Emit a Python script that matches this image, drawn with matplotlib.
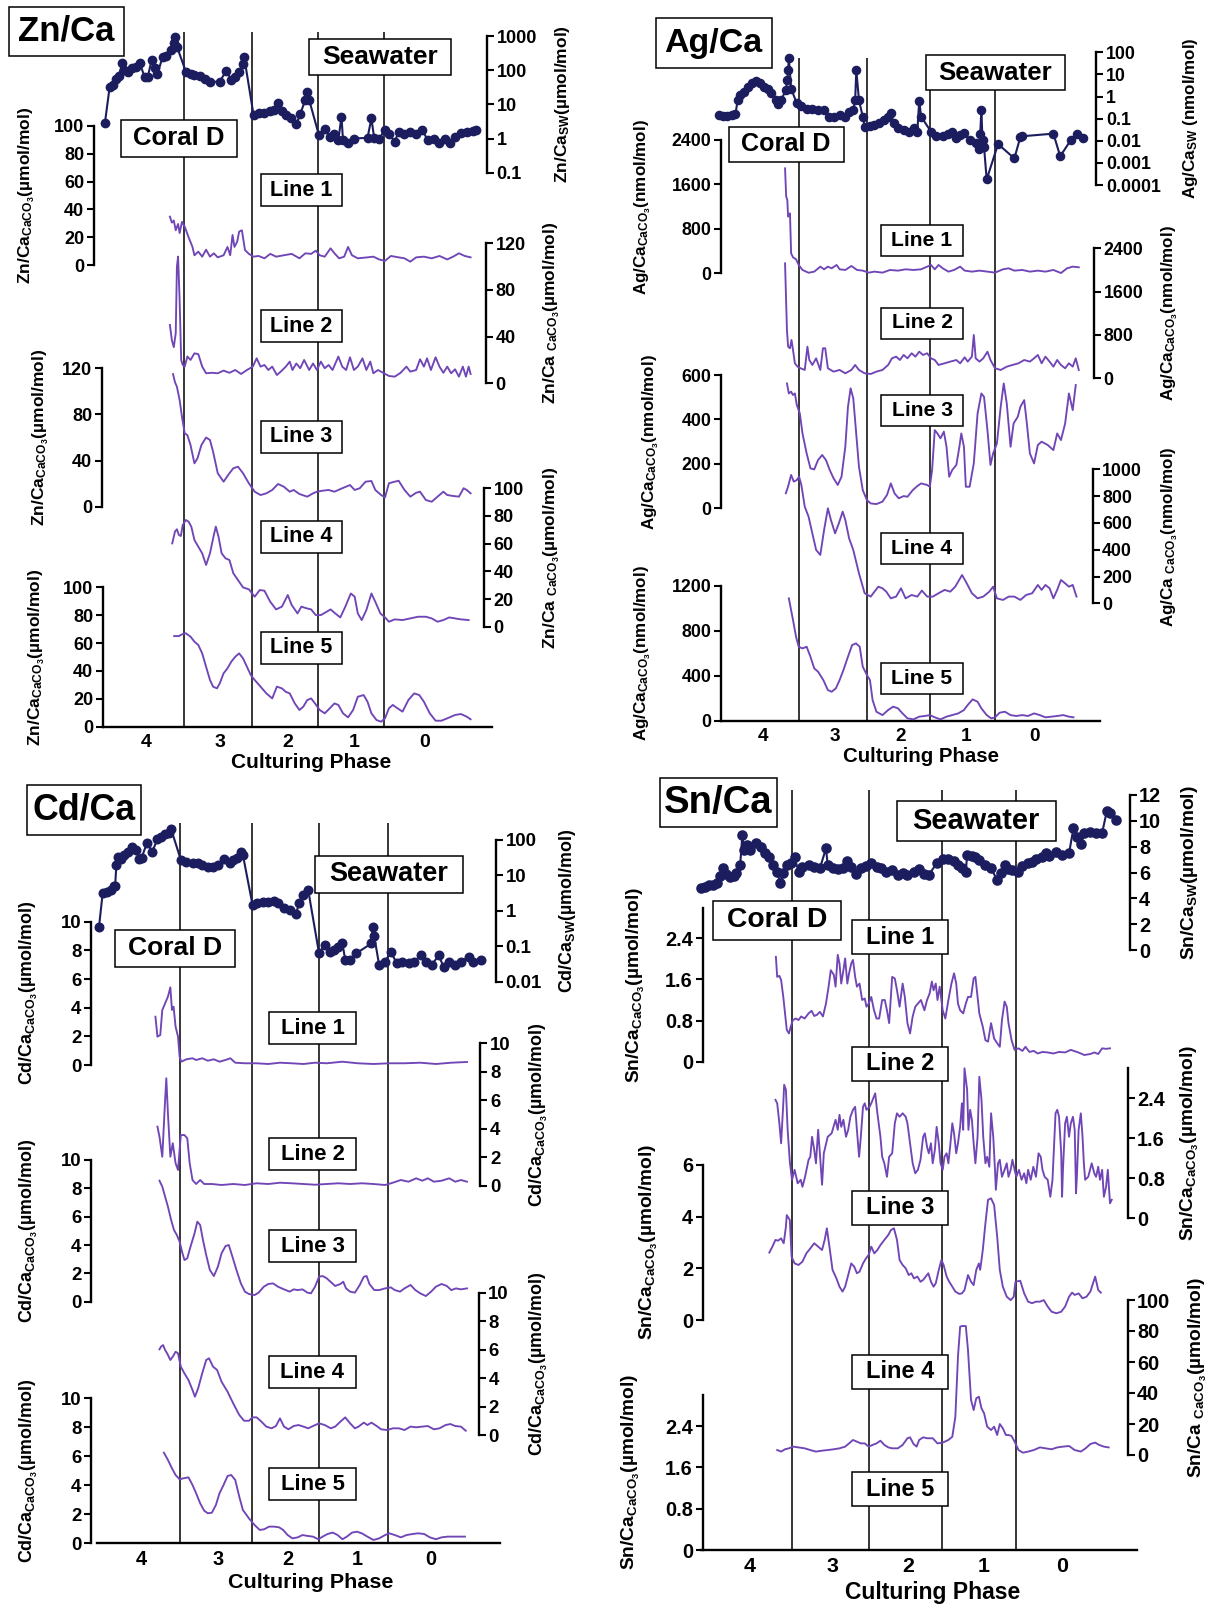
import numpy as np
import matplotlib
matplotlib.use('Agg')
import matplotlib.pyplot as plt
from matplotlib.patches import Rectangle
from matplotlib.ticker import FixedLocator, FixedFormatter, NullLocator

plt.rcParams['font.family'] = ['Liberation Sans', 'DejaVu Sans']
plt.rcParams['font.weight'] = 'bold'
plt.rcParams['mathtext.fontset'] = 'custom'
plt.rcParams['mathtext.rm'] = 'Liberation Sans'
plt.rcParams['mathtext.it'] = 'Liberation Sans:italic'
plt.rcParams['mathtext.bf'] = 'Liberation Sans:bold'

W, H = 1214, 1609
PURPLE = '#7045b6'
NAVY = '#1c1d5e'

# ---------------- shared x structure (position along the record, 0-100) -------------
PHASE_BOUNDS = [20.7, 38.4, 55.2, 72.2]
PHASE_TICKS = [11.1, 30.0, 47.4, 64.7, 82.8]
PHASE_LABELS = ['4', '3', '2', '1', '0']

# ---------------- Zn/Ca ----------------
ZN_SW = np.array([(0.5,2.9),(1.7,31.6),(2.5,37),(3.3,54),(4.0,68),(5.0,158),(5.5,100),(6.5,91),(7.5,113),(8.5,126),(9.5,158),(10.7,62),(11.5,62),(12.5,200),(13.3,113),(14.0,78),(15.3,240),(16.3,258),(17.5,390),(18.3,610),(18.5,920),(19.0,490),(21.3,91),(22.5,78),(23.5,72),(25.0,68),(26.3,57),(27.5,46),(30.0,46),(31.7,97),(33.0,51),(34.0,62),(35.0,91),(36.0,152),(36.3,240),(38.7,4.9),(40.0,5.5),(41.5,5.6),(43.0,6.2),(44.0,6.8),(45.0,11.2),(46.0,6.2),(47.0,4.9),(48.3,3.9),(49.7,2.6),(50.7,5.2),(52.0,13.5),(52.5,23),(53.0,13.5),(55.5,1.26),(57.0,1.86),(58.3,1.1),(59.5,1.4),(60.5,0.9),(61.3,4.4),(61.7,0.9),(63.0,0.72),(64.5,1.0),(68.0,1.05),(69.0,3.9),(69.7,1.05),(71.0,1.0),(72.5,1.8),(73.5,1.4),(75.0,0.8),(76.0,1.6),(77.5,1.4),(79.0,1.6),(80.5,1.4),(82.0,1.8),(83.5,0.9),(85.0,1.0),(86.5,0.72),(88.0,0.95),(89.3,0.75),(90.5,1.1),(92.0,1.5),(93.5,1.6),(95.0,1.7),(96.0,1.8)])
ZN_L1 = np.array([(17.2,34.8),(17.7,30.5),(18.2,32),(18.7,25),(19.3,29.5),(19.7,23),(20.3,31),(21.0,27.6),(22.0,20),(23.0,13),(23.5,7),(24.5,9.6),(25.5,6),(26.5,11),(27.5,6),(28.5,8.4),(29.5,5.5),(31.0,7),(32.0,13),(32.7,7),(33.3,21.6),(33.8,13),(34.5,16.8),(35.0,24),(35.7,25),(36.5,10.8),(37.5,8),(38.7,6),(40.0,6.5),(41.5,4.8),(43.0,8),(44.5,6),(46.5,7),(48.5,8),(50.5,4.8),(52.0,8.4),(53.5,8),(54.7,10.3),(55.7,7),(57.0,6),(58.5,12),(59.5,8.4),(60.7,4.8),(62.0,6),(63.0,13),(64.0,7),(65.5,4.8),(68.0,5.5),(69.5,6),(71.0,4),(72.5,3),(74.0,6.5),(76.0,5.5),(77.5,4.8),(79.0,2.4),(80.5,5.5),(82.5,6),(84.5,4.8),(86.5,6.5),(88.5,4),(90.0,6),(91.5,8.4),(93.0,6.5),(94.5,5.5)])
ZN_L2 = np.array([(17.2,50),(17.7,37),(18.2,31),(18.7,43),(19.0,100),(19.3,108.6),(19.7,71),(20.1,20),(20.5,15.7),(21.0,14.3),(21.7,23),(22.5,20),(23.5,25.7),(24.5,25),(25.5,14.3),(26.5,8.6),(28.0,9),(29.5,8.6),(31.0,10.9),(32.5,9),(34.0,11.4),(35.5,8),(37.0,11.4),(38.5,14.3),(39.5,21.4),(40.5,14.3),(41.5,15.7),(42.5,11.4),(43.5,14.3),(44.7,7.1),(45.7,10),(47.0,14.3),(48.0,18.6),(48.7,11.4),(49.7,17),(50.7,12.9),(51.7,20),(53.0,11.4),(54.0,17),(55.0,11.4),(56.0,18.6),(57.0,12.9),(58.0,15.7),(59.0,11.4),(60.5,22.9),(61.5,14.3),(62.5,11.4),(63.5,22.3),(64.5,11.4),(65.5,14.3),(66.7,21.4),(67.7,11.4),(68.7,18.6),(69.5,8.6),(70.7,11.4),(72.0,9),(73.5,6.3),(75.0,5.7),(76.5,9),(78.0,14.3),(79.0,10),(80.5,11.4),(81.5,20.6),(82.5,14.3),(83.3,21.4),(84.3,11.4),(85.5,22.3),(86.5,14.3),(87.5,9),(88.5,14.3),(89.5,8.6),(90.5,12),(91.5,5.7),(92.5,14.3),(93.3,5.7),(94.0,14.3),(94.5,8)])
ZN_L3 = np.array([(18.0,115),(18.5,108),(19.0,104),(19.7,92.5),(20.3,78),(21.0,63.7),(21.7,62),(22.5,53.5),(23.5,37.6),(24.3,42),(25.3,53.5),(26.5,60),(27.5,57.8),(28.3,47.7),(29.5,29),(31.0,21.7),(32.5,29),(33.5,33.3),(34.7,34.7),(36.0,29),(37.5,20.3),(39.0,13),(40.5,10.1),(42.0,11.6),(43.5,14.5),(45.0,19.7),(46.5,17.3),(48.0,13),(49.0,14.5),(50.5,11),(52.5,8.7),(54.0,11.6),(55.0,13),(56.5,13.9),(58.0,14.5),(59.5,13),(61.5,16),(63.5,18.8),(64.7,14.5),(66.0,16),(67.5,21.7),(69.0,22.3),(70.0,14.5),(71.5,10.1),(72.5,8.1),(73.5,20.3),(75.0,21.7),(76.0,22.5),(77.5,14.5),(79.0,8.7),(80.5,12.1),(81.5,13),(83.0,5.8),(84.5,4.3),(86.0,8.7),(87.5,13),(88.5,10.1),(90.0,9.3),(91.5,8.7),(92.7,16),(93.5,14.5),(94.5,11.6)])
ZN_L4 = np.array([(17.8,60.2),(18.5,68.7),(19.0,70.4),(19.5,66.3),(20.0,65.5),(20.5,73.5),(21.3,77.1),(22.0,75.9),(22.7,72.3),(23.5,62.7),(24.5,57.8),(25.5,53),(26.5,44.6),(27.5,53),(28.5,66.3),(29.0,72.3),(29.7,65),(30.5,53),(31.5,49.4),(32.5,48.2),(33.5,38.6),(34.7,33.7),(36.0,28.4),(37.5,27),(39.0,21.7),(40.3,26.5),(41.5,26),(43.0,18),(44.5,12.5),(46.0,14.5),(47.5,22.9),(48.5,15.7),(50.0,9.6),(51.0,14.5),(52.3,13.3),(53.5,12.5),(54.7,8.4),(56.0,8.4),(57.5,10.8),(58.5,12.5),(59.7,9.6),(61.0,6.7),(62.3,14.5),(63.7,24),(64.7,21.7),(65.5,9.6),(66.5,4.8),(67.7,12),(69.0,24),(70.0,18),(71.3,9.6),(72.5,6.7),(73.5,3.6),(75.0,5.3),(77.0,4.8),(79.0,6),(81.0,7.2),(83.0,7.2),(84.5,6),(86.0,3.6),(87.5,4.8),(89.0,6.7),(90.5,6),(92.0,5.3),(94.0,4.8)])
ZN_L5 = np.array([(18.3,65),(19.5,65),(20.5,66.5),(21.3,67),(22.5,64.6),(23.5,61),(24.5,58.6),(25.5,52.6),(26.5,43),(27.5,33.5),(28.3,28.7),(29.3,27.5),(30.0,31),(31.0,38.3),(32.0,41.9),(33.0,46.7),(34.0,50.2),(35.0,52.6),(36.0,49),(37.0,43),(38.0,37),(39.0,33.5),(40.5,28.7),(42.0,23.9),(43.5,20.3),(44.7,28.7),(46.0,27.5),(47.0,25),(48.0,23.9),(49.3,16.7),(50.5,12),(51.5,14.4),(52.5,19.1),(53.5,20.3),(54.5,16.7),(55.7,12),(57.0,9.6),(58.3,13.2),(59.5,16.7),(60.5,15.6),(61.7,9.6),(63.0,6.7),(64.3,12),(65.5,21.5),(67.0,22.7),(68.0,17.9),(69.0,9.6),(70.3,4.8),(71.5,3.6),(72.5,6),(73.5,13.2),(74.5,15.6),(75.7,13.2),(77.0,10.8),(78.5,19.1),(80.0,23.9),(81.3,22.7),(82.5,17.9),(84.0,9.6),(85.5,4.3),(87.0,4.3),(88.5,6),(90.5,8.4),(92.0,9.1),(93.5,7.2),(94.5,5.3)])

# ---------------- Ag/Ca ----------------
AG_SW = np.array([(-0.5,0.145),(0.5,0.13),(1.5,0.13),(2.8,0.145),(3.8,0.155),(4.4,0.69),(5.1,1.17),(6.2,1.66),(7.2,2.6),(8.2,4.0),(9.2,5.3),(10.3,4.2),(11.3,2.8),(12.3,2.1),(13.3,1.4),(14.4,0.69),(15.1,0.46),(15.9,0.69),(17.1,2.0),(17.5,5.6),(17.7,15.8),(17.9,54),(18.5,2.3),(20.0,0.49),(21.2,0.37),(22.6,0.26),(24.1,0.26),(25.6,0.245),(27.2,0.245),(28.4,0.115),(29.7,0.115),(31.3,0.145),(32.8,0.123),(33.8,0.21),(34.9,0.245),(35.4,0.69),(35.7,15.8),(36.4,0.69),(37.4,0.123),(37.9,0.044),(39.3,0.047),(40.5,0.051),(41.7,0.061),(43.1,0.087),(44.1,0.123),(44.8,0.174),(45.6,0.061),(46.7,0.036),(48.2,0.031),(49.7,0.026),(51.0,0.036),(51.8,0.026),(52.3,0.65),(52.8,0.123),(55.4,0.026),(56.7,0.016),(58.5,0.016),(60.0,0.021),(61.0,0.026),(62.1,0.013),(63.1,0.019),(64.1,0.023),(65.6,0.0107),(67.2,0.0076),(68.0,0.0041),(68.4,0.021),(68.7,0.245),(69.0,0.0107),(69.4,0.0054),(70.1,0.000178),(73.1,0.0071),(77.4,0.0016),(79.0,0.015),(79.5,0.016),(87.7,0.021),(89.5,0.002),(92.3,0.0107),(93.8,0.0195),(95.4,0.014)])
AG_L1 = np.array([(16.9,1890),(17.2,1380),(17.5,1320),(17.7,1020),(18.2,1080),(18.5,360),(19.0,288),(19.8,252),(20.5,150),(21.5,60),(23.1,10),(24.6,30),(26.2,120),(27.2,72),(28.2,120),(29.2,90),(30.5,150),(31.3,72),(32.8,60),(34.4,132),(35.9,60),(37.4,48),(39.0,12),(40.5,30),(42.6,12),(44.6,60),(46.7,48),(48.7,72),(50.8,60),(52.8,72),(54.4,120),(55.4,150),(56.4,72),(57.4,150),(58.5,90),(60.0,30),(61.5,60),(63.1,120),(64.3,48),(66.2,30),(68.2,48),(70.3,30),(72.3,12),(74.4,72),(75.9,90),(77.4,48),(79.5,60),(81.5,30),(83.6,48),(85.6,30),(87.7,60),(89.7,5),(91.3,90),(92.8,120),(94.4,108)])
AG_L2 = np.array([(16.9,2123),(17.1,1630),(17.4,892),(17.7,585),(18.2,554),(18.6,708),(19.0,523),(19.5,277),(20.2,215),(21.0,185),(22.1,154),(22.8,585),(23.3,338),(24.1,246),(25.1,369),(26.2,154),(26.9,554),(27.5,554),(28.2,185),(29.7,123),(31.3,154),(32.8,92),(34.4,154),(35.4,246),(36.4,154),(37.9,92),(39.5,80),(41.0,123),(42.6,154),(44.1,246),(45.1,369),(46.2,400),(47.2,338),(48.2,431),(49.2,369),(50.3,462),(51.3,400),(52.3,492),(53.3,431),(54.4,462),(55.4,369),(56.4,338),(57.4,246),(59.0,277),(60.5,308),(62.1,338),(63.1,277),(64.3,388),(65.1,308),(66.2,400),(66.7,800),(67.2,369),(68.2,308),(69.2,369),(70.3,492),(71.1,338),(72.3,185),(73.8,154),(75.4,215),(76.9,246),(78.5,277),(80.0,338),(81.5,308),(82.6,369),(83.6,431),(84.6,277),(85.6,400),(86.7,308),(87.7,215),(88.7,338),(89.7,246),(90.8,185),(91.8,277),(92.8,215),(93.6,369),(94.4,154)])
AG_L3 = np.array([(17.4,562),(17.9,517),(18.5,525),(19.0,510),(19.5,517),(20.0,465),(20.8,427),(21.5,337),(22.6,247),(23.6,180),(24.6,175),(25.6,217),(26.7,240),(27.7,217),(28.7,172),(29.7,135),(30.8,105),(31.8,142),(32.8,277),(33.5,457),(34.2,540),(34.9,495),(35.6,352),(36.4,187),(37.4,82),(38.5,37),(39.5,22),(41.0,19),(42.6,30),(43.8,60),(44.8,112),(45.8,67),(46.9,45),(48.2,55),(49.2,52),(50.6,82),(51.8,100),(52.8,112),(54.4,105),(55.1,97),(55.7,172),(56.4,352),(57.1,337),(57.9,315),(58.8,345),(59.5,277),(60.2,142),(61.0,172),(62.1,195),(62.9,277),(63.4,337),(64.1,277),(64.6,97),(65.6,97),(66.7,202),(67.7,427),(68.7,517),(69.4,502),(70.3,352),(71.1,195),(71.8,247),(72.8,292),(73.8,457),(74.6,562),(75.4,472),(76.4,277),(77.2,382),(78.3,412),(79.0,457),(80.0,487),(80.7,382),(81.5,247),(82.6,202),(83.6,285),(84.6,300),(86.2,285),(87.7,262),(88.7,337),(89.7,307),(90.8,382),(91.8,517),(92.8,442),(93.6,555)])
AG_L4 = np.array([(17.1,821),(17.7,871),(18.5,958),(19.2,908),(20.0,920),(20.6,945),(21.2,883),(22.1,721),(23.1,647),(24.1,522),(25.1,398),(26.2,361),(27.2,547),(28.2,709),(29.0,622),(30.1,522),(31.1,597),(32.1,684),(32.8,622),(33.8,485),(34.9,398),(36.4,224),(37.9,75),(39.5,50),(40.5,87),(41.5,124),(42.6,112),(43.6,87),(44.8,37),(46.2,50),(47.5,112),(48.7,37),(50.3,62),(51.8,50),(53.0,95),(54.4,50),(55.9,50),(57.4,75),(59.0,100),(60.5,87),(61.8,124),(63.6,211),(64.6,162),(66.2,75),(67.7,37),(69.2,50),(70.8,87),(71.8,124),(72.8,37),(74.4,25),(75.9,50),(77.4,50),(79.0,25),(80.5,62),(82.1,75),(83.6,137),(84.6,100),(85.6,137),(86.7,112),(87.7,37),(88.7,100),(89.7,174),(90.8,149),(91.8,124),(92.8,137),(93.8,50)])
AG_L5 = np.array([(17.9,1090),(19.0,897),(19.8,748),(20.5,659),(21.5,644),(22.6,659),(23.6,570),(24.6,466),(25.6,437),(27.0,362),(28.2,273),(29.2,258),(30.3,288),(31.3,362),(32.3,451),(33.5,570),(34.6,674),(35.6,689),(36.6,659),(37.4,481),(38.5,407),(39.3,362),(40.0,184),(41.0,80),(42.6,50),(44.1,95),(45.4,125),(46.7,110),(47.9,65),(49.2,21),(50.8,12),(52.3,36),(53.8,42),(55.1,50),(56.4,30),(57.9,12),(59.5,36),(61.0,50),(62.6,65),(64.1,95),(65.1,140),(66.4,190),(67.7,169),(68.7,110),(70.1,50),(71.3,21),(72.3,30),(73.5,71),(74.9,80),(76.4,50),(77.9,42),(79.5,50),(81.0,42),(82.6,65),(84.1,50),(85.6,30),(87.2,36),(88.7,42),(90.3,50),(91.8,36),(93.0,30)])

# ---------------- Cd/Ca ----------------
CD_SW = np.array([(0.5,0.355),(1.4,3.1),(2.4,3.5),(3.4,3.9),(4.1,5.0),(4.5,5.0),(4.8,19.6),(5.3,34),(6.0,30),(6.8,38),(7.7,47),(8.7,65),(9.7,52),(10.4,30),(11.1,32),(12.4,83),(13.7,47),(15.0,104),(15.9,124),(16.9,148),(17.9,162),(18.4,200),(20.8,27.6),(22.2,24.6),(23.7,23),(25.1,21.9),(26.1,19.6),(27.5,17.6),(28.8,16.9),(30.0,19.6),(31.4,30),(32.9,21.9),(33.8,27.6),(34.8,32),(35.7,47),(36.2,38),(38.6,1.46),(39.8,1.62),(41.1,1.82),(42.5,1.82),(44.0,1.94),(44.9,1.62),(46.4,1.17),(47.8,1.05),(49.3,0.81),(50.2,1.62),(51.2,2.8),(52.4,3.9),(55.1,0.063),(56.5,0.11),(57.8,0.07),(58.9,0.079),(59.7,0.098),(60.9,0.12),(61.6,0.041),(62.8,0.041),(64.3,0.063),(68.1,0.12),(68.4,0.355),(68.8,0.19),(70.0,0.03),(71.5,0.037),(72.9,0.07),(74.4,0.033),(75.8,0.037),(77.3,0.033),(78.7,0.037),(80.4,0.056),(81.6,0.037),(83.1,0.03),(84.8,0.056),(86.0,0.026),(87.4,0.035),(88.9,0.03),(90.3,0.037),(92.3,0.051),(93.2,0.035),(95.2,0.04)])
CD_L1 = np.array([(14.5,3.37),(15.0,1.98),(15.7,2.09),(16.2,3.84),(16.9,4.3),(17.6,4.77),(18.2,5.42),(18.6,3.84),(19.0,4.07),(19.5,2.67),(20.1,1.98),(20.5,0.58),(20.9,0.23),(22.2,0.4),(23.7,0.47),(24.6,0.35),(26.1,0.47),(27.5,0.3),(29.0,0.4),(30.4,0.23),(31.9,0.35),(33.1,0.47),(34.3,0.16),(36.7,0.12),(39.6,0.12),(42.5,0.07),(45.4,0.16),(48.3,0.12),(51.2,0.07),(54.1,0.16),(57.0,0.12),(60.9,0.23),(64.7,0.12),(68.6,0.07),(72.5,0.12),(76.3,0.12),(80.2,0.16),(84.1,0.07),(87.9,0.16),(91.8,0.21)])
CD_L2 = np.array([(15.0,4.16),(15.5,3.46),(16.2,2.05),(16.9,6.03),(17.2,7.55),(17.6,5.09),(18.2,2.05),(18.8,3.0),(19.5,1.59),(20.1,1.12),(20.8,3.57),(21.7,3.57),(22.4,3.34),(23.0,1.59),(23.7,0.42),(24.6,0.14),(25.6,0.42),(26.6,0.14),(28.5,0.14),(30.9,0.07),(33.8,0.14),(36.7,0.07),(39.6,0.19),(42.5,0.14),(45.4,0.23),(48.3,0.19),(51.2,0.14),(54.1,0.09),(57.0,0.14),(59.9,0.19),(62.8,0.14),(65.7,0.19),(68.6,0.14),(71.5,0.07),(73.4,0.23),(75.4,0.42),(77.3,0.30),(79.2,0.54),(80.7,0.37),(82.1,0.54),(83.6,0.30),(85.5,0.37),(87.4,0.54),(88.9,0.30),(90.3,0.42),(91.8,0.30)])
CD_L3 = np.array([(15.5,8.54),(16.2,8.12),(16.9,7.41),(17.6,6.71),(18.4,5.76),(19.1,5.06),(19.8,4.71),(20.5,4.24),(21.1,3.53),(21.7,2.94),(22.4,3.06),(23.2,3.88),(24.2,4.82),(24.9,5.65),(25.6,5.41),(26.3,4.35),(27.1,3.29),(28.0,2.24),(29.0,1.81),(30.0,2.47),(30.9,3.41),(31.9,3.93),(32.7,4.0),(33.6,3.18),(34.6,2.24),(35.7,1.29),(36.7,0.71),(37.7,0.54),(39.1,0.47),(40.1,0.64),(41.4,1.06),(42.5,1.25),(43.7,1.29),(44.9,1.06),(46.4,0.87),(47.8,0.71),(48.8,0.87),(49.8,0.82),(51.0,0.87),(52.2,0.64),(53.1,0.59),(54.1,1.06),(55.1,1.76),(56.0,1.81),(57.0,1.65),(58.2,1.34),(59.1,1.11),(60.4,1.25),(61.1,1.41),(61.8,0.94),(62.8,0.71),(64.0,0.64),(65.2,1.18),(66.2,1.76),(66.9,1.81),(67.6,1.25),(68.8,0.82),(70.0,0.82),(71.5,0.94),(72.9,1.01),(73.9,0.82),(75.2,0.71),(76.3,0.94),(77.8,1.18),(79.0,0.82),(80.2,0.59),(81.6,0.4),(82.9,0.71),(84.1,1.06),(85.5,1.25),(86.8,1.11),(87.9,0.82),(89.1,0.94),(90.3,0.87),(91.8,0.94)])
CD_L4 = np.array([(15.5,6.02),(15.9,6.21),(16.4,6.32),(16.9,5.97),(17.4,5.74),(18.2,5.27),(18.8,5.5),(19.5,5.85),(20.1,5.74),(20.8,4.8),(21.7,4.33),(22.7,3.86),(23.7,3.16),(24.3,2.69),(25.1,3.28),(26.1,4.33),(27.1,5.27),(27.8,5.39),(28.8,4.8),(29.8,4.57),(30.9,3.75),(32.4,3.04),(33.8,2.22),(35.3,1.41),(36.5,1.0),(37.7,1.0),(38.6,1.24),(39.6,1.24),(40.8,0.94),(42.0,0.59),(43.3,0.47),(44.4,0.63),(45.4,1.17),(46.4,0.59),(47.5,0.4),(48.8,0.63),(50.0,0.7),(51.2,0.59),(52.4,0.47),(53.6,0.63),(55.1,0.82),(56.5,0.7),(58.0,0.47),(59.1,0.59),(60.4,0.94),(61.6,1.24),(62.8,0.82),(64.0,0.47),(64.9,0.59),(66.2,0.87),(67.1,0.7),(68.1,0.87),(69.4,0.63),(70.5,0.4),(72.0,0.35),(73.4,0.47),(74.9,0.47),(76.3,0.35),(77.8,0.59),(79.2,0.54),(80.7,0.59),(82.1,0.63),(83.6,0.4),(85.0,0.47),(86.5,0.7),(87.7,0.77),(88.9,0.63),(90.3,0.59),(91.5,0.3)])
CD_L5 = np.array([(16.6,6.25),(17.6,5.75),(18.6,5.17),(19.5,4.71),(20.5,4.41),(21.4,4.48),(22.7,4.55),(23.7,4.02),(24.6,3.45),(25.6,2.76),(26.6,2.25),(27.5,2.07),(28.5,2.11),(29.5,2.64),(30.4,3.45),(31.4,4.02),(32.4,4.64),(33.3,4.71),(34.3,4.37),(35.3,3.22),(36.2,2.3),(37.7,1.72),(39.1,1.26),(40.4,0.92),(41.5,0.97),(42.7,1.15),(44.0,1.15),(45.2,1.1),(46.2,0.92),(47.3,0.57),(48.5,0.34),(49.8,0.41),(51.0,0.57),(52.2,0.51),(53.6,0.46),(54.9,0.28),(56.0,0.46),(57.2,0.64),(58.5,0.74),(59.7,0.57),(60.9,0.28),(62.0,0.46),(63.3,0.74),(64.5,0.8),(65.7,0.69),(67.1,0.46),(68.6,0.23),(70.0,0.34),(71.5,0.57),(72.5,0.69),(73.9,0.57),(75.4,0.41),(76.8,0.57),(78.3,0.64),(79.7,0.69),(81.2,0.64),(82.6,0.41),(84.1,0.28),(85.5,0.41),(87.0,0.46),(88.9,0.46),(91.3,0.46)])

# ---------------- Sn/Ca ----------------
SN_SW = np.array([(0.0,4.77),(0.9,4.85),(1.8,5.03),(2.7,5.03),(3.6,5.16),(4.2,5.73),(4.9,6.32),(5.6,5.88),(6.5,5.68),(7.4,5.73),(8.0,5.94),(8.9,6.58),(9.4,8.9),(9.8,7.74),(10.4,8.13),(11.2,7.74),(12.5,8.31),(13.7,7.95),(14.7,7.54),(15.6,7.23),(16.5,6.58),(17.4,6.06),(18.1,5.16),(18.8,5.94),(19.6,6.58),(20.5,6.71),(21.4,7.17),(22.3,6.06),(23.2,6.45),(24.6,6.58),(25.9,6.45),(27.2,6.32),(28.6,7.87),(29.0,6.58),(30.1,6.32),(31.3,6.25),(32.6,6.32),(33.5,6.92),(34.4,6.45),(35.4,5.88),(36.6,6.32),(37.9,6.5),(39.0,6.71),(40.2,6.45),(41.3,6.32),(42.4,6.06),(43.8,6.19),(45.1,5.81),(46.2,5.94),(47.3,5.81),(48.7,6.06),(50.0,6.25),(51.2,5.88),(52.2,5.81),(54.0,6.71),(55.4,7.02),(56.7,7.02),(58.0,6.92),(58.9,6.58),(59.8,6.32),(60.7,6.06),(61.0,7.35),(62.1,7.28),(62.8,7.17),(63.8,6.97),(65.2,6.58),(66.5,6.32),(67.9,5.42),(68.8,5.94),(69.6,6.58),(70.5,6.25),(71.4,6.19),(72.6,6.06),(73.7,6.5),(75.0,6.71),(75.9,6.84),(76.8,7.02),(78.1,7.17),(79.0,7.48),(79.9,7.28),(81.3,7.61),(82.8,7.35),(84.4,7.48),(85.4,9.42),(86.2,8.77),(87.2,8.21),(87.9,9.03),(89.3,9.16),(90.6,9.08),(92.0,9.08),(93.1,10.79),(93.8,10.58),(95.1,10.06)])
SN_L1 = np.array([(17.1,2.04),(17.4,1.65),(17.9,1.67),(18.3,1.59),(18.8,1.26),(19.2,0.94),(19.6,0.62),(20.1,0.55),(20.5,0.68),(21.0,0.81),(21.7,0.84),(22.3,0.81),(22.9,0.88),(23.7,0.84),(24.6,0.94),(25.3,0.99),(25.9,0.89),(26.5,0.91),(27.2,0.97),(27.9,0.88),(28.6,1.13),(29.2,1.46),(29.7,1.78),(30.4,1.69),(30.8,1.46),(31.3,2.08),(31.7,1.91),(32.1,1.52),(32.6,1.78),(33.0,2.01),(33.5,1.52),(33.9,1.72),(34.4,1.91),(34.8,1.98),(35.3,1.65),(35.7,1.46),(36.3,1.52),(36.9,1.20),(37.5,1.23),(37.9,1.07),(38.4,1.13),(39.0,1.26),(39.6,1.01),(40.2,0.84),(40.8,0.84),(41.5,1.20),(42.1,1.2),(42.6,1.0),(43.1,0.75),(43.8,1.65),(44.4,1.62),(44.9,1.39),(45.5,1.07),(46.2,1.52),(46.7,1.26),(47.3,0.75),(47.9,0.55),(48.5,0.88),(49.1,1.07),(49.7,1.13),(50.4,1.2),(51.2,1.0),(51.8,1.2),(52.4,1.33),(52.9,1.56),(53.3,1.39),(53.8,1.52),(54.2,1.2),(54.7,1.46),(55.4,1.0),(56.0,0.84),(56.7,1.2),(57.4,1.52),(58.0,1.72),(58.5,1.52),(58.9,1.13),(59.4,1.0),(60.1,0.94),(60.7,1.13),(61.2,1.26),(61.9,1.26),(62.5,1.62),(62.9,1.65),(63.4,1.26),(63.8,0.94),(64.6,0.68),(65.2,0.42),(65.8,0.39),(66.5,0.75),(67.2,0.45),(67.9,0.36),(68.5,0.29),(69.0,0.81),(69.6,1.17),(70.1,1.07),(70.5,0.75),(71.2,0.42),(71.9,0.23),(72.8,0.26),(73.7,0.21),(74.4,0.29),(75.3,0.19),(76.3,0.21),(77.2,0.16),(78.3,0.19),(79.5,0.18),(80.8,0.16),(82.1,0.19),(83.5,0.18),(84.8,0.23),(86.2,0.19),(87.1,0.16),(87.9,0.13),(89.3,0.15),(90.2,0.18),(91.1,0.15),(92.0,0.26),(92.9,0.25),(93.8,0.26)])
SN_L2 = np.array([(17.0,2.37),(17.4,2.3),(17.9,1.9),(18.3,1.5),(18.8,2.3),(19.0,2.67),(19.4,2.57),(19.8,1.77),(20.3,1.13),(20.8,0.77),(21.4,0.97),(22.1,0.7),(22.8,0.77),(23.2,0.63),(23.8,0.83),(24.6,1.17),(25.0,1.23),(25.4,1.63),(25.9,1.37),(26.3,1.1),(26.8,1.77),(27.2,1.3),(27.7,0.67),(28.1,1.3),(29.0,1.63),(29.9,1.7),(30.8,1.97),(31.3,1.77),(31.7,2.07),(32.1,1.83),(32.6,1.97),(33.2,1.63),(33.7,1.77),(34.2,2.03),(34.8,2.17),(35.3,2.23),(35.7,1.77),(36.2,1.23),(36.6,1.63),(37.1,2.23),(37.5,2.3),(37.9,2.17),(38.6,2.23),(39.0,2.3),(39.6,2.43),(39.9,2.5),(40.4,2.1),(41.1,1.63),(41.5,1.23),(42.0,1.1),(42.6,0.83),(43.1,1.23),(43.8,1.3),(44.4,1.9),(44.9,2.1),(45.5,2.03),(46.2,2.1),(46.9,2.03),(47.3,1.9),(47.9,1.5),(48.5,1.1),(49.1,0.9),(49.7,0.97),(50.3,1.17),(50.9,1.63),(51.3,1.7),(51.8,1.43),(52.2,1.3),(52.7,1.5),(53.1,1.1),(53.6,1.37),(54.0,1.83),(54.5,1.5),(54.9,1.1),(55.4,0.97),(55.8,1.23),(56.3,1.3),(56.7,1.1),(57.1,1.43),(57.6,1.9),(58.0,1.7),(58.5,1.3),(58.9,1.5),(59.4,1.83),(59.8,2.3),(60.1,1.77),(60.4,3.0),(61.0,2.57),(61.3,1.77),(61.7,2.17),(62.1,1.97),(62.5,1.5),(62.9,1.1),(63.4,1.63),(63.8,2.83),(64.3,2.37),(64.7,1.63),(65.2,1.1),(65.6,1.23),(66.1,1.03),(66.5,2.1),(67.0,1.63),(67.4,0.97),(67.6,0.57),(68.1,1.1),(68.5,1.17),(69.0,0.83),(69.6,0.97),(70.1,1.1),(70.5,0.83),(71.0,0.97),(71.4,1.17),(71.9,0.97),(72.3,0.83),(72.9,0.97),(73.5,0.77),(74.1,0.9),(74.6,0.7),(75.0,0.97),(75.6,0.77),(76.2,1.03),(76.8,0.83),(77.4,1.3),(77.9,1.23),(78.3,0.97),(78.8,0.83),(79.5,0.77),(80.1,0.43),(80.6,0.77),(81.3,2.1),(81.7,2.17),(82.1,2.03),(82.6,1.3),(82.8,0.43),(83.0,0.97),(83.5,1.9),(83.9,2.03),(84.4,1.63),(84.8,1.9),(85.3,2.03),(85.7,1.77),(86.0,0.5),(86.2,0.83),(86.6,1.77),(87.1,2.1),(87.5,1.63),(87.8,1.1),(88.1,0.77),(88.8,0.83),(89.6,1.1),(90.2,0.9),(90.6,0.83),(91.1,1.03),(91.5,0.77),(92.0,0.97),(92.4,0.43),(92.9,0.63),(93.3,0.97),(93.8,0.3),(94.2,0.37)])
SN_L3 = np.array([(15.6,2.61),(16.3,2.84),(17.0,3.1),(17.6,3.07),(18.3,3.16),(18.9,2.97),(19.4,3.61),(19.6,4.06),(20.3,3.87),(20.7,2.45),(21.4,2.19),(22.3,2.13),(23.2,2.26),(24.1,2.58),(25.0,2.77),(25.9,2.97),(26.8,2.84),(27.7,2.71),(28.3,3.1),(28.8,3.55),(29.5,2.71),(30.1,1.94),(31.0,1.61),(31.7,1.29),(32.4,1.1),(33.0,1.29),(33.7,1.74),(34.4,2.19),(35.1,2.06),(35.7,1.81),(36.3,1.87),(37.1,2.19),(37.8,2.39),(38.4,2.52),(39.0,2.84),(39.7,2.58),(40.4,2.71),(41.1,2.9),(42.0,3.1),(42.9,3.29),(43.5,3.48),(44.2,3.55),(44.9,3.1),(45.5,2.32),(46.2,2.13),(46.9,2.0),(47.6,1.74),(48.2,1.81),(48.8,1.61),(49.6,1.68),(50.3,1.48),(50.9,1.55),(51.5,1.68),(52.1,1.81),(52.7,1.48),(53.3,1.29),(53.8,1.42),(54.5,1.94),(55.1,2.32),(55.6,2.13),(56.3,1.68),(56.9,1.48),(57.6,1.29),(58.3,1.1),(59.2,1.01),(59.8,1.03),(60.4,1.16),(61.2,1.74),(61.9,1.48),(62.5,1.35),(63.1,1.94),(63.7,2.19),(64.0,1.94),(64.6,2.71),(65.2,3.74),(65.8,4.65),(66.5,4.71),(67.2,4.45),(67.9,3.23),(68.5,1.94),(69.2,1.29),(70.1,0.9),(71.0,0.77),(71.7,0.9),(72.1,1.48),(73.2,1.52),(74.1,1.03),(75.0,0.71),(75.9,0.65),(76.8,0.71),(77.7,0.71),(78.6,0.77),(79.5,0.52),(80.4,0.32),(81.5,0.26),(82.6,0.32),(83.5,0.52),(84.4,0.9),(85.1,1.06),(85.7,0.97),(86.6,1.03),(87.5,0.84),(88.4,0.9),(89.3,1.1),(89.9,1.42),(90.4,1.68),(91.1,1.16),(91.7,1.06)])
SN_L4 = np.array([(17.4,3.2),(18.3,2.2),(19.2,3.7),(20.1,4.3),(21.0,5.4),(22.3,4.9),(23.7,4.3),(25.0,3.2),(26.3,2.2),(27.7,2.8),(29.0,3.2),(30.4,3.7),(31.7,4.3),(33.0,5.4),(33.9,7.5),(34.8,9.7),(35.7,8.6),(36.6,7.5),(37.5,7.5),(38.4,5.4),(39.3,6.5),(40.2,7.5),(41.1,9.2),(42.0,6.5),(42.9,4.9),(43.8,4.3),(45.1,4.3),(46.2,6.5),(47.3,10.8),(47.9,11.4),(48.7,7.1),(49.4,5.4),(50.0,9.7),(50.9,11.4),(51.8,10.8),(53.1,10.8),(54.2,7.5),(55.4,8.0),(56.7,9.7),(57.6,11.8),(58.3,24.7),(58.9,63.4),(59.4,82.8),(59.8,83.2),(60.7,83.2),(61.2,67.7),(61.9,35.5),(62.5,29),(63.1,36.6),(63.7,37.6),(64.3,30.1),(64.9,26.9),(65.6,18.3),(66.5,16.1),(67.2,18.3),(67.9,12.9),(68.5,20),(69.2,17.2),(69.9,12.9),(70.5,12.9),(71.2,12.3),(71.9,8.6),(72.8,3.2),(73.8,1.5),(75.0,2.2),(76.3,3.2),(77.7,4.9),(79.0,4.3),(80.4,3.7),(81.7,4.9),(83.0,5.4),(84.4,5.8),(85.7,3.2),(87.1,2.2),(88.2,4.3),(89.3,7.1),(90.4,8),(91.3,6.5),(92.4,5.4),(93.5,4.9)])
SN_L5 = np.empty((0, 2))

# ---------------- axis tick definitions ----------------
ZN_SW_TICKS = [0.1, 1, 10, 100, 1000]
AG_SW_TICKS = [0.0001, 0.001, 0.01, 0.1, 1, 10, 100]
CD_SW_TICKS = [0.01, 0.1, 1, 10, 100]
SN_SW_TICKS = [0, 2, 4, 6, 8, 10, 12]


def fmt(v):
    return ('%g' % v) if v >= 0.001 or v == 0 else '0.0001'


CACO = r'$_{\mathrm{CaCO_3}}$'
SW = r'$_{\mathrm{SW}}$'

# layout (pixel geometry of the reference)
PANELS = [
    dict(title='Zn/Ca', x0=103, x1=492, vtop=32, sc=1.0,
         title_box=(8.6, 6.7, 123.7, 56), sw_box=(309, 39, 451, 75), coral_box=(120.6, 120, 236.6, 156.7),
         line_x=(261, 342), line_h=32, line_y=[190, 326, 437, 536.5, 647.5], xlab=(311, 763),
         series=[
             dict(d=ZN_SW, sw=True, side='right', yb=172.7, yt=36, lim=(0.1, 1000), log=True, ticks=ZN_SW_TICKS, sp=487, lab='Zn/Ca' + SW + '(µmol/mol)', lx=562),
             dict(d=ZN_L1, side='left', yb=265, yt=126, lim=(0, 100), ticks=[0, 20, 40, 60, 80, 100], sp=94, lab='Zn/Ca' + CACO + '(µmol/mol)', lx=27),
             dict(d=ZN_L2, side='right', yb=383.3, yt=243.3, lim=(0, 120), ticks=[0, 40, 80, 120], sp=486, lab='Zn/Ca ' + CACO + '(µmol/mol)', lx=552),
             dict(d=ZN_L3, side='left', yb=506.7, yt=368.3, lim=(0, 120), ticks=[0, 40, 80, 120], sp=102, lab='Zn/Ca' + CACO + '(µmol/mol)', lx=41),
             dict(d=ZN_L4, side='right', yb=626.7, yt=488.3, lim=(0, 100), ticks=[0, 20, 40, 60, 80, 100], sp=484, lab='Zn/Ca ' + CACO + '(µmol/mol)', lx=552),
             dict(d=ZN_L5, side='left', yb=726.7, yt=587.3, lim=(0, 100), ticks=[0, 20, 40, 60, 80, 100], sp=103, lab='Zn/Ca' + CACO + '(µmol/mol)', lx=37, bottom=True),
         ]),
    dict(title='Ag/Ca', x0=721, x1=1100, vtop=58, sc=0.98,
         title_box=(655.5, 18.3, 771.5, 68.3), sw_box=(926, 55, 1065, 90), coral_box=(728.7, 126.7, 843.5, 161.7),
         line_x=(881, 963), line_h=31, line_y=[240.5, 323, 410, 548, 678], xlab=(921, 757),
         series=[
             dict(d=AG_SW, sw=True, side='right', yb=185, yt=52.3, lim=(0.0001, 100), log=True, ticks=AG_SW_TICKS, sp=1096.4, lab='Ag/Ca' + SW + ' (nmol/mol)', lx=1190),
             dict(d=AG_L1, side='left', yb=273.3, yt=140, lim=(0, 2400), ticks=[0, 800, 1600, 2400], sp=721, lab='Ag/Ca' + CACO + '(nmol/mol)', lx=643),
             dict(d=AG_L2, side='right', yb=378.3, yt=248.3, lim=(0, 2400), ticks=[0, 800, 1600, 2400], sp=1094, lab='Ag/Ca' + CACO + '(nmol/mol)', lx=1170),
             dict(d=AG_L3, side='left', yb=508.3, yt=375, lim=(0, 600), ticks=[0, 200, 400, 600], sp=721, lab='Ag/Ca' + CACO + '(nmol/mol)', lx=651),
             dict(d=AG_L4, side='right', yb=603.3, yt=469.3, lim=(0, 1000), ticks=[0, 200, 400, 600, 800, 1000], sp=1092.5, lab='Ag/Ca ' + CACO + '(nmol/mol)', lx=1170),
             dict(d=AG_L5, side='left', yb=720.7, yt=586, lim=(0, 1200), ticks=[0, 400, 800, 1200], sp=721, lab='Ag/Ca' + CACO + '(nmol/mol)', lx=643, bottom=True),
         ]),
    dict(title='Cd/Ca', x0=97, x1=500, vtop=822.7, sc=1.03,
         title_box=(26.5, 785, 140.9, 835), sw_box=(315, 856, 463, 892.7), coral_box=(114.8, 930, 235.4, 966.7),
         line_x=(269, 356), line_h=32, line_y=[1028, 1154, 1246, 1372, 1484], xlab=(311, 1582),
         series=[
             dict(d=CD_SW, sw=True, side='right', yb=981.7, yt=840, lim=(0.01, 100), log=True, ticks=CD_SW_TICKS, sp=496, lab='Cd/Ca' + SW + '(µmol/mol)', lx=568),
             dict(d=CD_L1, side='left', yb=1065, yt=921.7, lim=(0, 10), ticks=[0, 2, 4, 6, 8, 10], sp=91, lab='Cd/Ca' + CACO + '(µmol/mol)', lx=29),
             dict(d=CD_L2, side='right', yb=1186, yt=1043.3, lim=(0, 10), ticks=[0, 2, 4, 6, 8, 10], sp=480.5, lab='Cd/Ca' + CACO + '(µmol/mol)', lx=539),
             dict(d=CD_L3, side='left', yb=1301.7, yt=1160, lim=(0, 10), ticks=[0, 2, 4, 6, 8, 10], sp=91, lab='Cd/Ca' + CACO + '(µmol/mol)', lx=29),
             dict(d=CD_L4, side='right', yb=1435, yt=1292.7, lim=(0, 10), ticks=[0, 2, 4, 6, 8, 10], sp=478.6, lab='Cd/Ca' + CACO + '(µmol/mol)', lx=539),
             dict(d=CD_L5, side='left', yb=1543.3, yt=1398.3, lim=(0, 10), ticks=[0, 2, 4, 6, 8, 10], sp=91, lab='Cd/Ca' + CACO + '(µmol/mol)', lx=29, bottom=True),
         ]),
    dict(title='Sn/Ca', x0=701.4, x1=1137, vtop=790, sc=1.1,
         title_box=(659.8, 778.3, 776.5, 827.3), sw_box=(897, 800.7, 1055.5, 840.7), coral_box=(713, 900.7, 841.5, 940),
         line_x=(852, 947.7), line_h=34, line_y=[937, 1064, 1208, 1372, 1489], xlab=(933, 1592),
         series=[
             dict(d=SN_SW, sw=True, side='right', yb=950, yt=795, lim=(0, 12), ticks=SN_SW_TICKS, sp=1129.5, lab='Sn/Ca' + SW + '(µmol/mol)', lx=1190),
             dict(d=SN_L1, side='left', yb=1061.7, yt=907.5, lim=(0, 3), ticks=[0, 0.8, 1.6, 2.4], sp=702.6, lab='Sn/Ca' + CACO + '(µmol/mol)', lx=636),
             dict(d=SN_L2, side='right', yb=1218.3, yt=1068.3, lim=(0, 3), ticks=[0, 0.8, 1.6, 2.4], sp=1127.5, lab='Sn/Ca' + CACO + '(µmol/mol)', lx=1190),
             dict(d=SN_L3, side='left', yb=1320, yt=1165, lim=(0, 6), ticks=[0, 2, 4, 6], sp=702.6, lab='Sn/Ca' + CACO + '(µmol/mol)', lx=649),
             dict(d=SN_L4, side='right', yb=1455, yt=1300, lim=(0, 100), ticks=[0, 20, 40, 60, 80, 100], sp=1127.5, lab='Sn/Ca ' + CACO + '(µmol/mol)', lx=1197.5),
             dict(d=SN_L5, side='left', yb=1550, yt=1395, lim=(0, 3), ticks=[0, 0.8, 1.6, 2.4], sp=702.6, lab='Sn/Ca' + CACO + '(µmol/mol)', lx=631, bottom=True),
         ]),
]

fig = plt.figure(figsize=(W / 100, H / 100), dpi=100)


def rect(x0, x1, yt, yb):
    return [x0 / W, 1 - yb / H, (x1 - x0) / W, (yb - yt) / H]


def box(b, text, size):
    x0, y0, x1, y1 = b
    fig.add_artist(Rectangle((x0 / W, 1 - y1 / H), (x1 - x0) / W, (y1 - y0) / H, transform=fig.transFigure,
                             facecolor='white', edgecolor='black', lw=1.1, zorder=5))
    fig.text((x0 + x1) / 2 / W, 1 - (y0 + y1) / 2 / H, text, ha='center', va='center',
             fontsize=size, fontweight='bold', zorder=6)


for P in PANELS:
    sc = P['sc']
    bottom_y = [s for s in P['series'] if s.get('bottom')][0]['yb']
    # phase boundary lines
    fr = fig.add_axes(rect(P['x0'], P['x1'], P['vtop'], bottom_y))
    fr.set_xlim(0, 100)
    fr.set_ylim(0, 1)
    fr.axis('off')
    for b in PHASE_BOUNDS:
        fr.axvline(b, color='black', lw=1.1)

    for s in P['series']:
        ax = fig.add_axes(rect(P['x0'], P['x1'], s['yt'], s['yb']))
        ax.patch.set_alpha(0)
        ax.set_xlim(0, 100)
        if s.get('log'):
            ax.set_yscale('log')
        ax.set_ylim(*s['lim'])
        for sp in ax.spines.values():
            sp.set_visible(False)
        side = s['side']
        ax.spines[side].set_visible(True)
        ax.spines[side].set_linewidth(1.7)
        off = (P['x0'] - s['sp']) if side == 'left' else (s['sp'] - P['x1'])
        ax.spines[side].set_position(('outward', off * 0.72))
        ax.yaxis.set_ticks_position(side)
        ax.yaxis.set_major_locator(FixedLocator(s['ticks']))
        ax.yaxis.set_major_formatter(FixedFormatter([fmt(t) for t in s['ticks']]))
        ax.yaxis.set_minor_locator(NullLocator())
        ax.tick_params(axis='y', which='major', length=5, width=1.5, labelsize=13 * sc, pad=2)
        if s.get('bottom'):
            ax.spines['bottom'].set_visible(True)
            ax.spines['bottom'].set_linewidth(1.7)
            ax.set_xticks(PHASE_TICKS)
            ax.set_xticklabels(PHASE_LABELS)
            ax.tick_params(axis='x', length=0, labelsize=14 * sc, pad=5)
        else:
            ax.tick_params(axis='x', bottom=False, labelbottom=False)
        d = s['d']
        if len(d):
            if s.get('sw'):
                ax.plot(d[:, 0], d[:, 1], '-o', color=NAVY, ms=6 * sc, lw=1.5, clip_on=False, zorder=3)
            else:
                ax.plot(d[:, 0], d[:, 1], color=PURPLE, lw=1.35, clip_on=False, zorder=3)
        ymid = (s['yb'] + s['yt']) / 2
        fig.text(s['lx'] / W, 1 - ymid / H, s['lab'], rotation=90, ha='center', va='center',
                 fontsize=12.5 * sc, fontweight='bold')

    # text boxes
    box(P['title_box'], P['title'], 25 * sc)
    box(P['sw_box'], 'Seawater', 19 * sc)
    box(P['coral_box'], 'Coral D', 18.5 * sc)
    for i, yc in enumerate(P['line_y']):
        box((P['line_x'][0], yc - P['line_h'] / 2, P['line_x'][1], yc + P['line_h'] / 2), 'Line %d' % (i + 1), 15.5 * sc)
    fig.text(P['xlab'][0] / W, 1 - P['xlab'][1] / H, 'Culturing Phase', ha='center', va='center',
             fontsize=15 * sc, fontweight='bold')

fig.savefig('out.png', dpi=100, facecolor='white')
